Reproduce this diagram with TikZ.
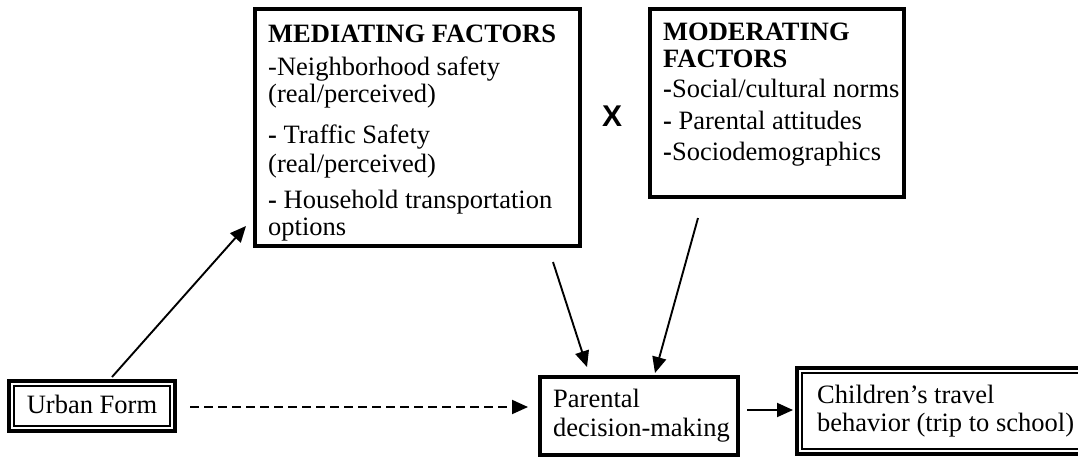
\documentclass[tikz,border=0pt]{standalone}
\usepackage{fontspec}
\setmainfont{Liberation Serif}
\newfontfamily\xfont{Liberation Sans}
\usetikzlibrary{arrows.meta}
\begin{document}
\begin{tikzpicture}[x=1pt,y=-1pt,
  box/.style={draw,line width=3.8pt,inner sep=0,outer sep=0},
  dbox/.style={draw,line width=3.2pt,inner sep=0,outer sep=0},
  inner/.style={draw,line width=1.6pt},
  txt/.style={anchor=base west,inner sep=0,font=\fontsize{26.5}{31}\selectfont},
  conn/.style={line width=1.9pt,-{Triangle[length=16pt,width=14pt]}},
]
\useasboundingbox (0,0) rectangle (1078,458);
\clip (0,0) rectangle (1078,458);

% boxes
\node[box,minimum width=325pt,minimum height=237pt] (med) at (417.5,127.5) {};
\node[box,minimum width=254pt,minimum height=188pt] (mod) at (777,103) {};
\node[dbox,minimum width=166pt,minimum height=50pt] (uf) at (92,406) {};
\node[box,minimum width=198pt,minimum height=78pt] (pd) at (639,416) {};
\node[dbox,minimum width=303pt,minimum height=86pt] (cb) at (948.5,411) {};
\draw[inner] ([shift={(5pt,-5pt)}]uf.north west) rectangle ([shift={(-5pt,5pt)}]uf.south east);
\draw[inner] ([shift={(5pt,-5pt)}]cb.north west) rectangle ([shift={(-5pt,5pt)}]cb.south east);

% mediating text
\node[txt] (m0) at (268,42) {\bfseries MEDIATING FACTORS};
\node[txt] (m1) at (268,75) {-Neighborhood safety};
\node[txt] (m2) at (268,102) {(real/perceived)};
\node[txt] (m3) at (268,143) {\textbf{-} Traffic Safety};
\node[txt] (m4) at (268,172) {(real/perceived)};
\node[txt] (m5) at (268,208) {\textbf{-} Household transportation};
\node[txt] (m6) at (268,235) {options};

% moderating text
\node[txt] (d0) at (663,40) {\bfseries MODERATING};
\node[txt] (d1) at (663,67) {\bfseries FACTORS};
\node[txt] (d2) at (663,97) {\textbf{-}Social/cultural norms};
\node[txt] (d3) at (663,129) {\textbf{-} Parental attitudes};
\node[txt] (d4) at (663,160) {\textbf{-}Sociodemographics};

% X
\node[inner sep=0,font=\xfont\bfseries\fontsize{30}{34}\selectfont] (x) at (612,116) {X};

% bottom texts
\node[txt,anchor=base] (uft) at (92,413) {Urban Form};
\node[txt] (p1) at (553,407) {Parental};
\node[txt] (p2) at (553,436) {decision-making};
\node[txt] (c1) at (817,403) {Children’s travel};
\node[txt] (c2) at (817,431) {behavior (trip to school)};

% connectors
\draw[conn] ([shift={(20pt,4pt)}]uf.north) -- ([shift={(-9pt,20pt)}]med.south west);
\draw[conn,dash pattern=on 9pt off 5pt] ([shift={(15pt,-1pt)}]uf.east) -- ([shift={(-12pt,9pt)}]pd.west);
\draw[conn] ([shift={(135.5pt,-16pt)}]med.south) -- ([shift={(-52pt,10pt)}]pd.north);
\draw[conn] ([shift={(-79pt,-21pt)}]mod.south) -- ([shift={(16pt,4pt)}]pd.north);
\draw[conn] ([shift={(9pt,6pt)}]pd.east) -- ([shift={(-4pt,1pt)}]cb.west);
\end{tikzpicture}
\end{document}
